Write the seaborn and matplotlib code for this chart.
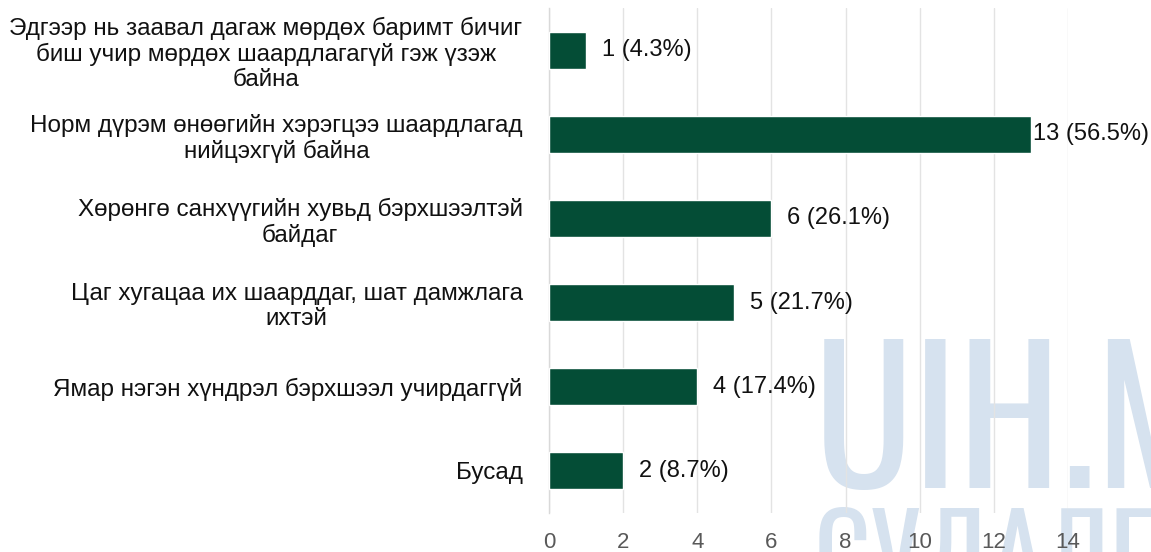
import matplotlib
matplotlib.use("Agg")
import matplotlib.pyplot as plt
import seaborn as sns
import pandas as pd
from matplotlib import font_manager as fm

categories = [
    "Эдгээр нь заавал дагаж мөрдөх баримт бичиг\nбиш учир мөрдөх шаардлагагүй гэж үзэж\nбайна",
    "Норм дүрэм өнөөгийн хэрэгцээ шаардлагад\nнийцэхгүй байна",
    "Хөрөнгө санхүүгийн хувьд бэрхшээлтэй\nбайдаг",
    "Цаг хугацаа их шаарддаг, шат дамжлага\nихтэй",
    "Ямар нэгэн хүндрэл бэрхшээл учирдаггүй",
    "Бусад",
]
counts = [1, 13, 6, 5, 4, 2]
percents = [4.3, 56.5, 26.1, 21.7, 17.4, 8.7]
xticks = [0, 2, 4, 6, 8, 10, 12, 14]

sns.set_theme(style="white")
plt.rcParams["font.family"] = ["Liberation Sans", "DejaVu Sans"]

df = pd.DataFrame({"category": categories, "count": counts})

fig = plt.figure(figsize=(11.51, 5.52), dpi=100)
ax = fig.add_axes([549 / 1151, 1 - 513 / 552, (1068 - 549) / 1151, (513 - 8) / 552])
ax.set_zorder(1)

# site watermark behind the plot
names = {f.name for f in fm.fontManager.ttflist}
wm_family = next((n for n in ["Oswald", "Roboto Condensed", "PT Sans Narrow", "Archivo Narrow"]
                  if n in names), "DejaVu Sans")
fig.text(814 / 1151, 1 - 488 / 552, "UIH.MN", fontsize=132, fontweight="bold",
         family=wm_family, color="#D6E2EF", ha="left", va="baseline", zorder=-1)
fig.text(814 / 1151, 1 - 598 / 552, "СУДАЛГААНЫ", fontsize=80, fontweight="bold",
         family=wm_family, color="#D6E2EF", ha="left", va="baseline", zorder=-1)
ax.patch.set_alpha(0)

sns.barplot(data=df, y="category", x="count", color="#044D36", width=0.44,
            saturation=1, ax=ax, zorder=3)

ax.set_xlim(0, 14)
ax.set_ylim(5.5, -0.5)
ax.set_xticks(xticks)
ax.set_xticklabels([str(t) for t in xticks])
ax.set_xlabel("")
ax.set_ylabel("")
ax.grid(axis="x", color="#E3E3E3", linewidth=1, zorder=1)
ax.set_axisbelow(True)

for s in ["top", "right", "bottom"]:
    ax.spines[s].set_visible(False)
ax.spines["left"].set_color("#D9D9D9")
ax.spines["left"].set_linewidth(1)

ax.tick_params(axis="x", length=0, labelsize=16, labelcolor="#595959", pad=14)
ax.tick_params(axis="y", which="major", length=0, labelsize=17.5, labelcolor="#111111", pad=19)
ax.set_yticks([i - 0.5 for i in range(len(categories) + 1)], minor=True)
ax.tick_params(axis="y", which="minor", length=5, color="#D9D9D9", width=1)
for lab in ax.get_yticklabels():
    lab.set_multialignment("center")
    lab.set_linespacing(1.15)

for i, (c, p) in enumerate(zip(counts, percents)):
    text = f"{c} ({p}%)"
    pad = 16 if c < 13 else 2
    ax.annotate(text, xy=(c, i), xytext=(pad * 72 / 100, 0), textcoords="offset points",
                ha="left", va="center", fontsize=17, color="#111111",
                annotation_clip=False, zorder=4)

fig.savefig("out.png", dpi=100)
